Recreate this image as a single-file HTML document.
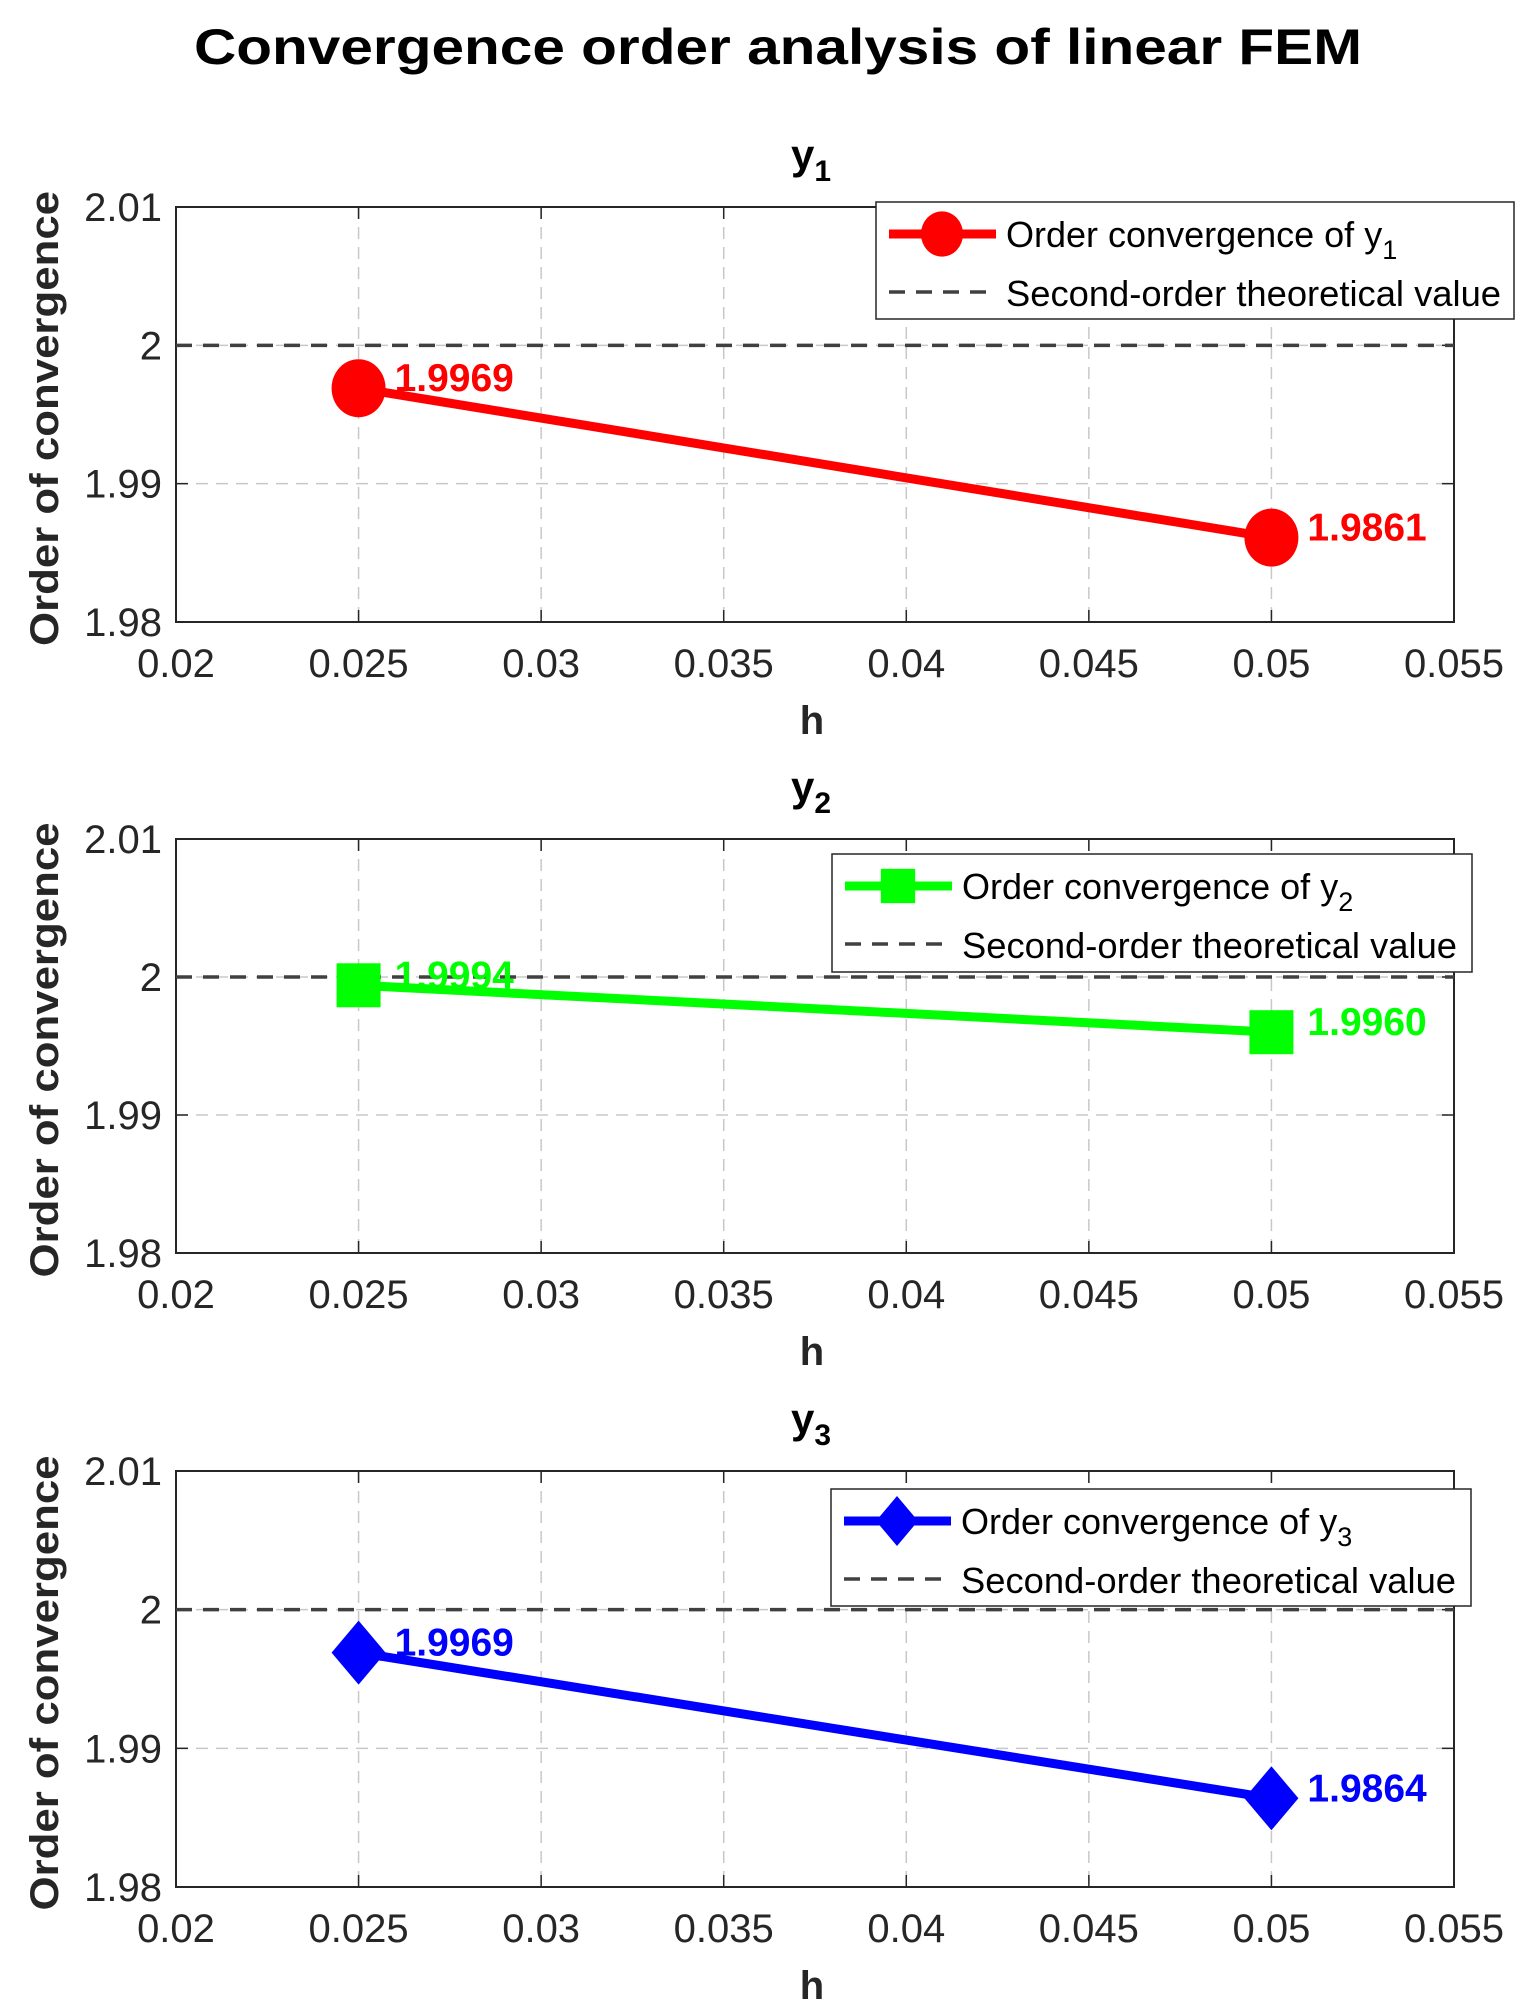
<!DOCTYPE html>
<html><head><meta charset="utf-8"><style>
html,body{margin:0;padding:0;background:#fff;}
svg{display:block;font-family:"Liberation Sans",Arial,sans-serif;}
</style></head><body>
<svg id="fig" width="1530" height="2011" viewBox="0 0 1530 2011" xmlns="http://www.w3.org/2000/svg">
<text x="778" y="64" text-anchor="middle" font-size="50" font-weight="bold" textLength="1168" lengthAdjust="spacingAndGlyphs">Convergence order analysis of linear FEM</text>
</svg>
<script>
const hValues = [0.025, 0.05];
const y1Values = [1.9969, 1.9861];
const y2Values = [1.9994, 1.9960];
const y3Values = [1.9969, 1.9864];
const y1Labels = ["1.9969", "1.9861"];
const y2Labels = ["1.9994", "1.9960"];
const y3Labels = ["1.9969", "1.9864"];
const xTicks = [0.02, 0.025, 0.03, 0.035, 0.04, 0.045, 0.05, 0.055];
const xTickLabels = ["0.02","0.025","0.03","0.035","0.04","0.045","0.05","0.055"];
const yTicks = [1.98, 1.99, 2, 2.01];
const yTickLabels = ["1.98","1.99","2","2.01"];
const theoryValue = 2;

const NS = "http://www.w3.org/2000/svg";
const svg = document.getElementById('fig');
function mk(tag, attrs, parent, text){
  const e = document.createElementNS(NS, tag);
  for (const k in attrs) e.setAttribute(k, attrs[k]);
  if (text !== undefined) e.textContent = text;
  (parent || svg).appendChild(e);
  return e;
}
const L = 176, R = 1454;
const panels = [
  {top:207, bot:622, vals:y1Values, labs:y1Labels, color:'#ff0000', marker:'circle', sub:'1', name:'y1', leg:{x:876,y:202,w:638,h:117}},
  {top:839, bot:1253, vals:y2Values, labs:y2Labels, color:'#00ff00', marker:'square', sub:'2', name:'y2', leg:{x:832,y:854,w:640,h:118}},
  {top:1471, bot:1887, vals:y3Values, labs:y3Labels, color:'#0000ff', marker:'diamond', sub:'3', name:'y3', leg:{x:831,y:1489,w:640,h:117}}
];
function drawMarker(g, type, cx, cy, color, scale){
  let m;
  if (type === 'circle') m = mk('ellipse', {cx:cx, cy:cy, rx:27*scale, ry:29*scale, fill:color}, g);
  else if (type === 'square') m = mk('rect', {x:cx-22*scale, y:cy-22*scale, width:44*scale, height:44*scale, fill:color}, g);
  else m = mk('polygon', {points:`${cx},${cy-32*scale} ${cx+27*scale},${cy} ${cx},${cy+32*scale} ${cx-27*scale},${cy}`, fill:color}, g);
  return m;
}
panels.forEach(p => {
  const g = mk('g', {});
  
  
  const xs = v => L + (v - 0.02) / 0.035 * (R - L);
  const ys = v => p.bot - (v - 1.98) / 0.03 * (p.bot - p.top);
  xTicks.forEach((t, i) => {
    const x = xs(t);
    if (i > 0 && i < xTicks.length - 1) {
      const gl = mk('line', {x1:x, x2:x, y1:p.top, y2:p.bot, stroke:'#c8c8c8', 'stroke-width':1.5, 'stroke-dasharray':'12,8'}, g);
      
      
    }
    mk('line', {x1:x, x2:x, y1:p.bot, y2:p.bot-12, stroke:'#262626', 'stroke-width':1.5}, g);
    mk('line', {x1:x, x2:x, y1:p.top, y2:p.top+12, stroke:'#262626', 'stroke-width':1.5}, g);
    const tl = mk('text', {x:x, y:p.bot+55, 'text-anchor':'middle', 'font-size':40, fill:'#262626'}, g, xTickLabels[i]);
    
    
  });
  yTicks.forEach((t, i) => {
    const y = ys(t);
    if (i > 0 && i < yTicks.length - 1) {
      const gl = mk('line', {x1:L, x2:R, y1:y, y2:y, stroke:'#c8c8c8', 'stroke-width':1.5, 'stroke-dasharray':'12,8'}, g);
      
      
    }
    mk('line', {x1:L, x2:L+12, y1:y, y2:y, stroke:'#262626', 'stroke-width':1.5}, g);
    mk('line', {x1:R, x2:R-12, y1:y, y2:y, stroke:'#262626', 'stroke-width':1.5}, g);
    const tl = mk('text', {x:L-14, y:y+14, 'text-anchor':'end', 'font-size':40, fill:'#262626'}, g, yTickLabels[i]);
    
    
  });
  const box = mk('rect', {x:L, y:p.top, width:R-L, height:p.bot-p.top, fill:'none', stroke:'#262626', 'stroke-width':2}, g);
  
  
  const th = mk('line', {x1:L, x2:R, y1:ys(theoryValue), y2:ys(theoryValue), stroke:'#404040', 'stroke-width':3.5, 'stroke-dasharray':'16,11'}, g);
  
  
  const pts = hValues.map((h, i) => xs(h) + ',' + ys(p.vals[i])).join(' ');
  const sl = mk('polyline', {points:pts, fill:'none', stroke:p.color, 'stroke-width':9}, g);
  
  
  hValues.forEach((h, i) => {
    const cx = xs(h), cy = ys(p.vals[i]);
    const m = drawMarker(g, p.marker, cx, cy, p.color, 1);
    
    
    const vl = mk('text', {x:cx+36, y:cy+3, 'font-size':39, 'font-weight':'bold', fill:p.color}, g, p.labs[i]);
    
    
  });
  const st = mk('text', {x:(L+R)/2 - 24, y:p.top - 38, 'font-size':42, 'font-weight':'bold'}, g);
  
  
  st.appendChild(document.createTextNode('y'));
  mk('tspan', {'font-size':30, dy:12}, st, p.sub);
  const xl = mk('text', {x:(L+R)/2 - 3, y:p.bot+112, 'text-anchor':'middle', 'font-size':40, 'font-weight':'bold', fill:'#262626'}, g, 'h');
  
  
  const cy = (p.top + p.bot) / 2 + 4;
  const yl = mk('text', {x:0, y:0, transform:`translate(58,${cy}) rotate(-90)`, 'text-anchor':'middle', 'font-size':40, 'font-weight':'bold', fill:'#262626', textLength:455, lengthAdjust:'spacingAndGlyphs'}, g, 'Order of convergence');
  
  
  const lg = mk('g', {}, g);
  
  
  const b = p.leg;
  mk('rect', {x:b.x, y:b.y, width:b.w, height:b.h, fill:'#fff', stroke:'#262626', 'stroke-width':1.5}, lg);
  const r1 = b.y + 32, r2 = b.y + 94;
  const e1 = mk('g', {}, lg);
  
  
  mk('line', {x1:b.x+13, x2:b.x+120, y1:r1, y2:r1, stroke:p.color, 'stroke-width':9}, e1);
  drawMarker(e1, p.marker, b.x+66, r1, p.color, 0.78);
  const t1 = mk('text', {x:b.x+130, y:r1+13, 'font-size':36}, e1);
  t1.appendChild(document.createTextNode('Order convergence of y'));
  mk('tspan', {'font-size':27, dy:12}, t1, p.sub);
  const e2 = mk('g', {}, lg);
  
  
  mk('line', {x1:b.x+13, x2:b.x+120, y1:r2-4, y2:r2-4, stroke:'#404040', 'stroke-width':3.5, 'stroke-dasharray':'16,11'}, e2);
  mk('text', {x:b.x+130, y:r2+10, 'font-size':36, textLength:495, lengthAdjust:'spacingAndGlyphs'}, e2, 'Second-order theoretical value');
});
</script>
</body></html>
